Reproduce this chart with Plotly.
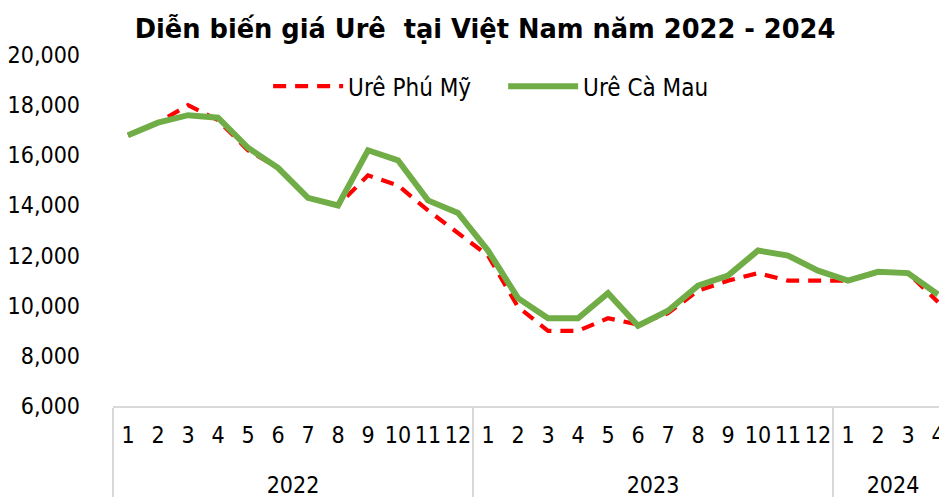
import plotly.graph_objects as go

years = ["2022"] * 12 + ["2023"] * 12 + ["2024"] * 4
months = [str(m) for m in range(1, 13)] * 2 + ["1", "2", "3", "4"]

phu_my = [16800, 17300, 18000, 17400, 16200, 15500, 14300, 14000, 15200, 14800, 13800, 12900,
          12000, 9950, 9000, 9000, 9500, 9250, 9700, 10600, 11000, 11300, 11000, 11000,
          11000, 11350, 11300, 10150]
ca_mau = [16800, 17300, 17600, 17500, 16300, 15500, 14300, 14000, 16200, 15800, 14200, 13700,
          12200, 10300, 9500, 9500, 10500, 9200, 9800, 10800, 11200, 12200, 12000, 11400,
          11000, 11350, 11300, 10450]

title_text = "Diễn biến giá Urê\u00a0 tại Việt Nam năm 2022 - 2024"
y_ticks = [6000, 8000, 10000, 12000, 14000, 16000, 18000, 20000]

FONT = "DejaVu Sans Condensed, DejaVu Sans, sans-serif"
TITLE_FONT = "DejaVu Sans, sans-serif"

# month labels get an empty second line so the year row sits lower, as in the original
month_labels = [m + "<br>\u00a0" for m in months]
x_cats = [years, month_labels]

fig = go.Figure()
fig.add_trace(go.Scatter(
    x=x_cats, y=phu_my, name="Urê Phú Mỹ", mode="lines",
    line=dict(color="#FF0000", width=4.2, dash="13px,9px"),
))
fig.add_trace(go.Scatter(
    x=x_cats, y=ca_mau, name="Urê Cà Mau", mode="lines",
    line=dict(color="#70AD47", width=6),
))

# the page body has an 8px default margin; the figure is sized to fit the window after it
fig.update_layout(
    width=939, height=489,
    margin=dict(l=105, r=0, t=47, b=91),
    paper_bgcolor="white", plot_bgcolor="white",
    font=dict(family=FONT, size=23, color="black"),
    title=dict(text="<b>" + title_text + "</b>", x=0.508, xanchor="center",
               y=0.957, yanchor="middle", font=dict(family=TITLE_FONT, size=25.7),
               automargin=False),
    showlegend=True,
    legend=dict(orientation="h", x=0.186, xanchor="left", y=0.91, yanchor="middle",
                font=dict(size=24), bgcolor="rgba(0,0,0,0)", itemwidth=70,
                entrywidth=150, entrywidthmode="pixels"),
)
fig.update_yaxes(range=[6000, 20000], tickvals=y_ticks, tickformat=",d",
                 showgrid=False, zeroline=False, showline=False, automargin=False,
                 ticklabelstandoff=32, tickfont=dict(size=23))
fig.update_xaxes(type="multicategory", showgrid=False, showline=True, automargin=False,
                 range=[-0.5, 27.3], ticklabeloverflow="allow",
                 linecolor="#D9D9D9", linewidth=1.5, mirror=False,
                 showdividers=True, dividercolor="#D9D9D9", dividerwidth=1.5,
                 ticks="", tickangle=0, ticklabelstandoff=8, tickfont=dict(size=23))

fig.write_html("out.html")
